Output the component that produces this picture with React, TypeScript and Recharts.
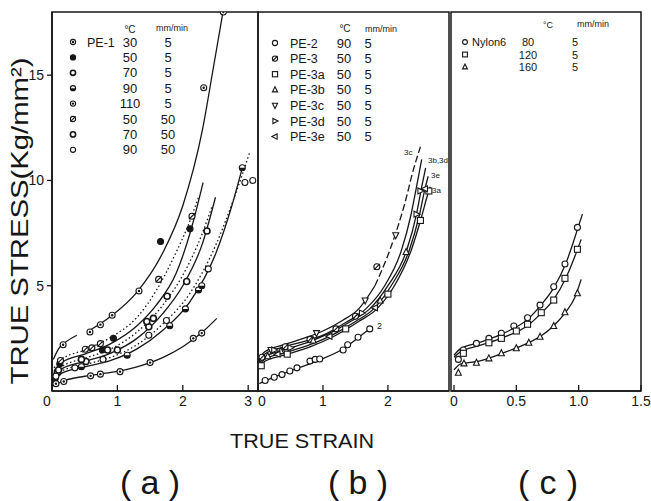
import React from "react";
import { ComposedChart, Line, Scatter, XAxis, YAxis, ReferenceArea } from "recharts";

const ink = "#161616";
const font = "'Liberation Sans', Arial, Helvetica, sans-serif";
const stressMax = 18;

// ---------- (a) PE-1 ----------
const aTemps = [30, 50, 70, 90, 110, 50, 70, 90];
const aRates = [5, 5, 5, 5, 5, 50, 50, 50];
const aTicks = [0, 1, 2, 3];

const a30CurveLow = [[0.02, 1.5], [0.1, 2.0], [0.2, 2.3], [0.38, 2.65]];
const a30Curve = [[0.56, 2.85], [0.9, 3.55], [1.3, 4.7], [1.7, 6.6], [2.0, 8.8], [2.3, 12.4], [2.47, 15.4], [2.62, 18.1]];
const a30Marks = [[0.17, 2.2], [0.58, 2.8], [0.74, 3.15], [0.92, 3.6], [1.33, 4.75], [2.32, 14.4], [2.62, 18.0]];

const a50Curve = [[0.03, 0.95], [0.15, 1.35], [0.5, 1.75], [0.9, 2.25], [1.3, 3.1], [1.6, 4.1], [1.9, 5.6], [2.12, 7.6], [2.31, 9.9]];
const a50Marks = [[0.12, 1.3], [0.77, 1.95], [0.94, 2.5], [1.66, 7.1], [2.11, 7.7]];

const a70Curve = [[0.03, 0.7], [0.15, 1.05], [0.5, 1.4], [0.9, 1.8], [1.3, 2.5], [1.7, 3.7], [2.0, 5.0], [2.3, 7.0], [2.5, 9.2]];
const a70Marks = [[0.08, 0.85], [0.52, 1.4], [1.0, 1.95], [1.48, 3.05], [1.55, 3.45], [2.06, 5.2], [2.37, 7.6]];

const a90Curve = [[0.03, 0.5], [0.15, 0.85], [0.5, 1.15], [0.9, 1.45], [1.3, 2.0], [1.7, 2.9], [2.1, 4.2], [2.5, 6.5], [2.75, 8.8], [2.91, 10.6]];
const a90Marks = [[0.05, 0.6], [0.45, 1.15], [1.15, 1.7], [1.8, 3.1], [2.04, 3.9], [2.24, 4.8], [2.29, 5.0], [2.91, 10.6]];

const a110Curve = [[0.03, 0.25], [0.15, 0.45], [0.5, 0.7], [0.9, 0.88], [1.3, 1.15], [1.7, 1.6], [2.0, 2.1], [2.3, 2.8], [2.52, 3.45]];
const a110Marks = [[0.06, 0.35], [0.18, 0.45], [0.59, 0.72], [0.74, 0.8], [1.04, 0.92], [1.5, 1.35], [2.16, 2.5], [2.29, 2.75]];

const a50fCurve = [[0.03, 1.1], [0.15, 1.5], [0.5, 1.95], [0.9, 2.55], [1.3, 3.5], [1.6, 4.8], [1.9, 6.6], [2.1, 8.0], [2.24, 9.2]];
const a50fMarks = [[0.13, 1.45], [0.51, 1.98], [0.61, 2.05], [0.74, 2.25], [1.63, 5.3], [2.14, 8.3]];

const a70fCurve = [[0.03, 0.8], [0.15, 1.15], [0.5, 1.55], [0.9, 2.0], [1.3, 2.8], [1.7, 4.1], [2.0, 5.5], [2.3, 7.5], [2.45, 8.8]];
const a70fMarks = [[0.1, 1.0], [0.45, 1.5], [0.85, 1.95], [1.45, 3.3], [1.76, 4.5]];

const a90fCurve = [[0.03, 0.6], [0.15, 0.95], [0.5, 1.25], [0.9, 1.6], [1.3, 2.2], [1.7, 3.2], [2.1, 4.6], [2.5, 6.9], [2.8, 9.3], [3.03, 11.4]];
const a90fMarks = [[0.06, 0.7], [0.35, 1.1], [0.78, 1.5], [1.48, 2.65], [1.75, 3.35], [2.39, 5.8], [2.95, 9.9], [3.07, 10.0]];

// ---------- (b) PE-2, PE-3 series ----------
const bNames = ["PE-2", "PE-3", "PE-3a", "PE-3b", "PE-3c", "PE-3d", "PE-3e"];
const bTemps = [90, 50, 50, 50, 50, 50, 50];
const bRates = [5, 5, 5, 5, 5, 5, 5];
const bTicks = [0, 1, 2];

const b2Curve = [[0.02, 0.35], [0.2, 0.6], [0.5, 0.95], [0.9, 1.42], [1.3, 1.98], [1.55, 2.55], [1.76, 3.05]];
const b2Marks = [[0.11, 0.5], [0.25, 0.65], [0.37, 0.78], [0.49, 0.95], [0.6, 1.1], [0.8, 1.42], [0.88, 1.5], [0.95, 1.52], [1.31, 1.95], [1.38, 2.2], [1.54, 2.55], [1.72, 2.95]];

const b3Curve = [[0, 1.3], [0.1, 1.75], [0.4, 2.1], [0.7, 2.35], [1.0, 2.65], [1.35, 3.25], [1.66, 3.9], [1.95, 5.0], [2.21, 6.7], [2.35, 8.3], [2.44, 9.7], [2.52, 11.0]];
const b3Marks = [[0.06, 1.6], [0.42, 2.1], [0.8, 2.45], [1.2, 2.95], [1.5, 3.55], [1.83, 5.9]];

const b3aCurve = [[0, 1.0], [0.1, 1.4], [0.4, 1.7], [0.8, 2.1], [1.2, 2.65], [1.55, 3.3], [1.83, 3.9], [2.1, 5.0], [2.36, 6.7], [2.52, 8.3], [2.6, 9.2], [2.65, 9.7]];
const b3aMarks = [[0.05, 1.2], [0.45, 1.75], [1.35, 2.95], [2.0, 4.6], [2.5, 8.1], [2.63, 9.5]];

const b3bdCurve = [[0, 1.2], [0.1, 1.6], [0.4, 1.95], [0.8, 2.35], [1.2, 2.9], [1.45, 3.35], [1.72, 3.9], [2.0, 5.0], [2.29, 6.7], [2.44, 8.4], [2.52, 9.7], [2.58, 10.6]];
const b3bMarks = [[0.15, 1.65], [0.35, 1.9], [0.85, 2.4], [1.88, 4.3], [2.28, 6.6]];
const b3dMarks = [[0.25, 1.95], [0.5, 2.05], [1.6, 3.7], [2.44, 8.4], [2.5, 9.5]];

const b3cCurveLow = [[0, 1.45], [0.1, 1.85], [0.4, 2.2], [0.7, 2.5], [1.0, 2.85], [1.3, 3.35], [1.55, 3.9], [1.8, 5.0]];
const b3cCurveHigh = [[1.8, 5.0], [2.03, 6.7], [2.25, 8.8], [2.4, 10.6], [2.5, 11.6]];
const b3cMarks = [[0.2, 1.95], [0.9, 2.75], [1.65, 4.3], [2.12, 7.4]];

const b3eCurve = [[0, 1.1], [0.1, 1.5], [0.4, 1.8], [0.8, 2.2], [1.2, 2.75], [1.5, 3.3], [1.78, 3.9], [2.05, 5.0], [2.33, 6.7], [2.48, 8.3], [2.57, 9.6], [2.62, 10.2]];
const b3eMarks = [[0.3, 1.75], [1.1, 2.6], [1.8, 3.95], [2.57, 9.6]];

// ---------- (c) Nylon 6 ----------
const cTemps = [80, 120, 160];
const cRates = [5, 5, 5];
const cTicks = [0, 0.5, 1, 1.5];

const c80Curve = [[0, 1.7], [0.05, 2.0], [0.2, 2.3], [0.4, 2.75], [0.6, 3.45], [0.7, 4.1], [0.8, 4.9], [0.9, 6.1], [0.97, 7.3], [1.03, 8.4]];
const c80Marks = [[0.035, 1.5], [0.075, 1.95], [0.18, 2.26], [0.28, 2.5], [0.38, 2.74], [0.48, 3.09], [0.59, 3.48], [0.69, 4.08], [0.8, 4.95], [0.89, 6.03], [0.99, 7.77]];

const c120Curve = [[0, 1.6], [0.05, 1.85], [0.2, 2.15], [0.4, 2.55], [0.6, 3.15], [0.7, 3.7], [0.8, 4.35], [0.9, 5.4], [0.97, 6.4], [1.02, 7.2]];
const c120Marks = [[0.075, 1.79], [0.28, 2.29], [0.38, 2.5], [0.5, 2.85], [0.59, 3.17], [0.7, 3.72], [0.8, 4.32], [0.89, 5.35], [0.99, 6.73]];

const c160Curve = [[0, 1.0], [0.05, 1.28], [0.2, 1.42], [0.4, 1.82], [0.6, 2.3], [0.7, 2.62], [0.8, 3.1], [0.9, 3.78], [0.97, 4.45], [1.02, 5.3]];
const c160Marks = [[0.035, 0.87], [0.08, 1.31], [0.18, 1.34], [0.28, 1.55], [0.38, 1.79], [0.5, 2.03], [0.6, 2.29], [0.69, 2.58], [0.8, 3.09], [0.89, 3.74], [0.99, 4.64]];

const pts = (a: number[][]) => a.map(([x, y]) => ({ x, y }));

const dotted = "1.5 2.5";

const aSeries = [
  { curves: [a30CurveLow, a30Curve], marks: a30Marks, kind: "dot" },
  { curves: [a50Curve], marks: a50Marks, kind: "fill" },
  { curves: [a70Curve], marks: a70Marks, kind: "ring" },
  { curves: [a90Curve], marks: a90Marks, kind: "half" },
  { curves: [a110Curve], marks: a110Marks, kind: "dot" },
  { curves: [a50fCurve], marks: a50fMarks, kind: "slash", dash: dotted },
  { curves: [a70fCurve], marks: a70fMarks, kind: "ring", dash: dotted },
  { curves: [a90fCurve], marks: a90fMarks, kind: "open", dash: dotted },
];

const bSeries = [
  { curves: [b2Curve], marks: b2Marks, kind: "open" },
  { curves: [b3Curve], marks: b3Marks, kind: "slash" },
  { curves: [b3aCurve], marks: b3aMarks, kind: "square" },
  { curves: [b3bdCurve], marks: b3bMarks, kind: "triUp" },
  { curves: [b3cCurveLow], marks: b3cMarks, kind: "triDown" },
  { curves: [b3cCurveHigh], marks: [], kind: "triDown", dash: "7 3" },
  { curves: [], marks: b3dMarks, kind: "triRight" },
  { curves: [b3eCurve], marks: b3eMarks, kind: "triLeft" },
];
const bLegendKinds = ["open", "slash", "square", "triUp", "triDown", "triRight", "triLeft"];

const cSeries = [
  { curves: [c80Curve], marks: c80Marks, kind: "open" },
  { curves: [c120Curve], marks: c120Marks, kind: "square" },
  { curves: [c160Curve], marks: c160Marks, kind: "triUp" },
];

function Marker({ cx, cy, kind, r = 3 }: any) {
  if (cx == null || cy == null) return null;
  const sw = 1.1;
  switch (kind) {
    case "fill":
      return <circle cx={cx} cy={cy} r={r} fill={ink} stroke={ink} strokeWidth={sw} />;
    case "dot":
      return (
        <g>
          <circle cx={cx} cy={cy} r={r} fill="#fff" stroke={ink} strokeWidth={sw} />
          <circle cx={cx} cy={cy} r={1.2} fill={ink} />
        </g>
      );
    case "half":
      return (
        <g>
          <circle cx={cx} cy={cy} r={r} fill="#fff" stroke={ink} strokeWidth={sw} />
          <path d={`M${cx - r},${cy} A${r},${r} 0 0 0 ${cx + r},${cy} Z`} fill={ink} />
        </g>
      );
    case "slash":
      return (
        <g>
          <circle cx={cx} cy={cy} r={r} fill="#fff" stroke={ink} strokeWidth={sw} />
          <line x1={cx - r} y1={cy + r} x2={cx + r} y2={cy - r} stroke={ink} strokeWidth={sw} />
        </g>
      );
    case "ring":
      return <circle cx={cx} cy={cy} r={r} fill="#fff" stroke={ink} strokeWidth={1.6} />;
    case "square":
      return <rect x={cx - r} y={cy - r} width={2 * r} height={2 * r} fill="#fff" stroke={ink} strokeWidth={sw} />;
    case "triUp":
      return <polygon points={`${cx},${cy - r - 0.5} ${cx - r},${cy + r - 0.5} ${cx + r},${cy + r - 0.5}`} fill="#fff" stroke={ink} strokeWidth={sw} />;
    case "triDown":
      return <polygon points={`${cx},${cy + r + 0.5} ${cx - r},${cy - r + 0.5} ${cx + r},${cy - r + 0.5}`} fill="#fff" stroke={ink} strokeWidth={sw} />;
    case "triRight":
      return <polygon points={`${cx + r + 0.5},${cy} ${cx - r + 0.5},${cy - r} ${cx - r + 0.5},${cy + r}`} fill="#fff" stroke={ink} strokeWidth={sw} />;
    case "triLeft":
      return <polygon points={`${cx - r - 0.5},${cy} ${cx + r - 0.5},${cy - r} ${cx + r - 0.5},${cy + r}`} fill="#fff" stroke={ink} strokeWidth={sw} />;
    default:
      return <circle cx={cx} cy={cy} r={r} fill="#fff" stroke={ink} strokeWidth={sw} />;
  }
}

function XTick(props: any) {
  const { x, y, payload, zeroShift = 0, fmt } = props;
  const v = payload.value;
  return (
    <text x={x + (v === 0 ? zeroShift : 0)} y={y} dy="0.71em" textAnchor="middle" fontSize={14} fill={ink} fontFamily={font}>
      {fmt ? fmt(v) : String(v)}
    </text>
  );
}

function Panel({ left, width, ml, mr, domain, ticks, series, showY, zeroShift, fmt }: any) {
  return (
    <div style={{ position: "absolute", left, top: 0 }}>
      <ComposedChart width={width} height={420} margin={{ top: 12, right: mr, bottom: 0, left: ml }}>
        <XAxis
          type="number"
          dataKey="x"
          domain={domain}
          ticks={ticks}
          interval={0}
          allowDataOverflow
          height={29}
          tickSize={-6}
          tickMargin={11}
          axisLine={{ stroke: ink, strokeWidth: 1.6 }}
          tickLine={{ stroke: ink, strokeWidth: 1.3 }}
          tick={<XTick zeroShift={zeroShift} fmt={fmt} />}
        />
        <YAxis
          type="number"
          dataKey="y"
          domain={[0, stressMax]}
          ticks={[5, 10, 15]}
          allowDataOverflow
          hide={!showY}
          width={52}
          tickSize={5}
          tickMargin={3}
          axisLine={{ stroke: ink, strokeWidth: 1.6 }}
          tickLine={{ stroke: ink, strokeWidth: 1.3 }}
          tick={{ fontSize: 14, fill: ink, fontFamily: font }}
        />
        <ReferenceArea x1={domain[0]} x2={domain[1]} y1={0} y2={stressMax} fill="none" stroke={ink} strokeWidth={1.5} />
        {series.flatMap((s: any, i: number) =>
          s.curves.map((c: number[][], j: number) => (
            <Line
              key={`l${i}-${j}`}
              data={pts(c)}
              dataKey="y"
              type="monotone"
              dot={false}
              stroke={ink}
              strokeWidth={1.3}
              strokeDasharray={s.dash}
              isAnimationActive={false}
            />
          ))
        )}
        {series.map((s: any, i: number) =>
          s.marks.length ? (
            <Scatter
              key={`s${i}`}
              data={pts(s.marks)}
              isAnimationActive={false}
              shape={(p: any) => <Marker cx={p.cx} cy={p.cy} kind={s.kind} />}
            />
          ) : null
        )}
      </ComposedChart>
    </div>
  );
}

const txt = { fill: ink, fontFamily: font } as const;

function Overlay() {
  return (
    <svg width={651} height={501} style={{ position: "absolute", left: 0, top: 0, pointerEvents: "none" }}>
      {/* axis titles */}
      <text transform="translate(28,221) rotate(-90)" textAnchor="middle" fontSize={24} textLength={327} lengthAdjust="spacingAndGlyphs" {...txt}>
        TRUE STRESS(Kg/mm²)
      </text>
      <text x={302} y={448} textAnchor="middle" fontSize={21} textLength={144} lengthAdjust="spacingAndGlyphs" {...txt}>
        TRUE STRAIN
      </text>
      {["(a)", "(b)", "(c)"].map((t, i) => (
        <text key={t} x={[150, 358, 548][i]} y={494} textAnchor="middle" fontSize={34} textLength={60} lengthAdjust="spacing" {...txt}>
          {t}
        </text>
      ))}

      {/* legend (a) */}
      <text x={130} y={33} textAnchor="middle" fontSize={10} {...txt}>°C</text>
      <text x={172} y={31} textAnchor="middle" fontSize={9} {...txt}>mm/min</text>
      {aTemps.map((t, i) => {
        const y = 42 + i * 15.4;
        return (
          <g key={`la${i}`}>
            <Marker cx={73} cy={y} kind={aSeries[i].kind} r={2.6} />
            {i === 0 && <text x={87} y={y + 4.5} fontSize={12.5} {...txt}>PE-1</text>}
            <text x={130} y={y + 4.5} textAnchor="middle" fontSize={13} {...txt}>{t}</text>
            <text x={168} y={y + 4.5} textAnchor="middle" fontSize={13} {...txt}>{aRates[i]}</text>
          </g>
        );
      })}

      {/* legend (b) */}
      <text x={345} y={32} textAnchor="middle" fontSize={10} {...txt}>°C</text>
      <text x={381} y={32} textAnchor="middle" fontSize={9} {...txt}>mm/min</text>
      {bNames.map((n, i) => {
        const y = 43 + i * 15.6;
        return (
          <g key={`lb${i}`}>
            <Marker cx={275} cy={y} kind={bLegendKinds[i]} r={2.6} />
            <text x={290} y={y + 4.5} fontSize={12.5} {...txt}>{n}</text>
            <text x={344} y={y + 4.5} textAnchor="middle" fontSize={13} {...txt}>{bTemps[i]}</text>
            <text x={368} y={y + 4.5} textAnchor="middle" fontSize={13} {...txt}>{bRates[i]}</text>
          </g>
        );
      })}
      {/* curve labels (b) */}
      <text x={404} y={155} fontSize={8} {...txt}>3c</text>
      <text x={428} y={163} fontSize={8} {...txt}>3b,3d</text>
      <text x={431} y={178} fontSize={8} {...txt}>3e</text>
      <text x={432} y={193} fontSize={8} {...txt}>3a</text>
      <text x={377} y={329} fontSize={9} {...txt}>2</text>

      {/* legend (c) */}
      <text x={548} y={28} textAnchor="middle" fontSize={9} {...txt}>°C</text>
      <text x={593} y={27} textAnchor="middle" fontSize={9} {...txt}>mm/min</text>
      {cTemps.map((t, i) => {
        const y = 42 + i * 12.5;
        return (
          <g key={`lc${i}`}>
            <Marker cx={465} cy={y} kind={cSeries[i].kind} r={2.4} />
            {i === 0 && <text x={472} y={y + 4} fontSize={11} {...txt}>Nylon6</text>}
            <text x={528} y={y + 4} textAnchor="middle" fontSize={11} {...txt}>{t}</text>
            <text x={575} y={y + 4} textAnchor="middle" fontSize={11} {...txt}>{cRates[i]}</text>
          </g>
        );
      })}
    </svg>
  );
}

export default function App() {
  return (
    <div style={{ position: "absolute", left: 0, top: 0, width: 651, height: 501, background: "#fff", overflow: "hidden" }}>
      <Panel left={0} width={262} ml={0} mr={4} domain={[0, 3.15]} ticks={aTicks} series={aSeries} showY zeroShift={-5} />
      <Panel left={254} width={200} ml={4} mr={5} domain={[0, 2.94]} ticks={bTicks} series={bSeries} showY={false} zeroShift={4} />
      <Panel
        left={447}
        width={204}
        ml={4}
        mr={10}
        domain={[-0.024, 1.5]}
        ticks={cTicks}
        series={cSeries}
        showY={false}
        zeroShift={0}
        fmt={(v: number) => (v === 0 ? "0" : v.toFixed(1))}
      />
      <Overlay />
    </div>
  );
}
